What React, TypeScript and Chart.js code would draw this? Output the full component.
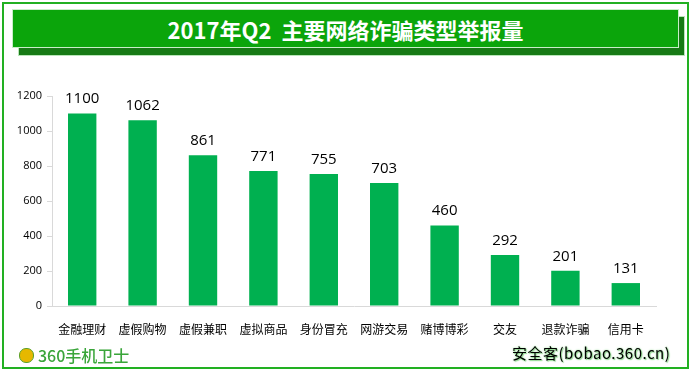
import React, { useEffect, useRef } from "react";
import { Chart, registerables } from "chart.js";

Chart.register(...registerables);

const categories = ["金融理财", "虚假购物", "虚假兼职", "虚拟商品", "身份冒充", "网游交易", "赌博博彩", "交友", "退款诈骗", "信用卡"];
const reports = [1100, 1062, 861, 771, 755, 703, 460, 292, 201, 131];
const yTicks = [0, 200, 400, 600, 800, 1000, 1200];
const titleText = "2017年Q2  主要网络诈骗类型举报量";

const valueLabels = {
  id: "valueLabels",
  afterDatasetsDraw(chart: any) {
    const ctx = chart.ctx;
    const meta = chart.getDatasetMeta(0);
    ctx.save();
    ctx.fillStyle = "#000";
    ctx.font = "15px 'Open Sans', 'Liberation Sans', sans-serif";
    ctx.textAlign = "center";
    ctx.textBaseline = "bottom";
    meta.data.forEach((bar: any, i: number) => {
      ctx.fillText(String(chart.data.datasets[0].data[i]), bar.x, bar.y - 7);
    });
    ctx.restore();
  },
};

export default function App() {
  const ref = useRef<HTMLCanvasElement>(null);
  useEffect(() => {
    const chart = new Chart(ref.current!, {
      type: "bar",
      data: {
        labels: categories,
        datasets: [{ data: reports, backgroundColor: "#00b050", categoryPercentage: 1, barPercentage: 0.47 }],
      },
      options: {
        animation: false,
        responsive: false,
        maintainAspectRatio: false,
        layout: { padding: { left: 0, right: 35, top: 96, bottom: 34 } },
        plugins: { legend: { display: false }, tooltip: { enabled: false } },
        scales: {
          x: {
            grid: { display: false },
            border: { color: "#d9d9d9", width: 1 },
            ticks: { color: "#000", font: { family: "'Noto Sans CJK SC', sans-serif", size: 12 }, padding: 8 },
            afterFit: (s: any) => { s.height = 30; },
          },
          y: {
            min: 0,
            max: 1200,
            afterBuildTicks: (s: any) => { s.ticks = yTicks.map((v) => ({ value: v })); },
            grid: { drawOnChartArea: false, drawTicks: true, tickLength: 5, color: "#d9d9d9" },
            border: { color: "#d9d9d9", width: 1 },
            ticks: { color: "#000", font: { family: "'Open Sans', 'Liberation Sans', sans-serif", size: 11 }, padding: 5, callback: (v: any) => String(v) },
            afterFit: (s: any) => { s.width = 52; },
          },
        },
      },
      plugins: [valueLabels],
    });
    return () => chart.destroy();
  }, []);

  return (
    <div style={{ position: "fixed", left: 0, top: 0, width: 691, height: 370, background: "#fff", overflow: "hidden" }}>
      <div style={{ position: "absolute", left: 2, top: 2, width: 683, height: 363, border: "2px solid #22b022" }} />
      <div style={{ position: "absolute", left: 18, top: 16, width: 667, height: 40, background: "#177a15", border: "1px solid #b9e6b9", boxSizing: "border-box" }} />
      <div style={{ position: "absolute", left: 12, top: 9, width: 667, height: 39, background: "#0ba50b", border: "1px solid #c8eec8", boxSizing: "border-box" }} />
      <div style={{ position: "absolute", left: 12, top: 9, width: 667, height: 39, display: "flex", alignItems: "center", justifyContent: "center", color: "#fff", fontFamily: "'Noto Sans CJK SC', sans-serif", fontWeight: 700, fontSize: 22, whiteSpace: "pre" }}>
        {titleText}
      </div>
      <canvas ref={ref} width={691} height={370} style={{ position: "absolute", left: 0, top: 0, width: 691, height: 370 }} />
      <div style={{ position: "absolute", left: 19, top: 343, display: "flex", alignItems: "center", fontFamily: "'Noto Sans CJK SC', sans-serif", fontSize: 16, color: "#3aa53a", fontWeight: 500 }}>
        <span style={{ display: "inline-block", width: 13, height: 13, borderRadius: 7, background: "#e6b800", border: "1px solid #5aa02a", marginRight: 4 }} />
        360手机卫士
      </div>
      <div style={{ position: "absolute", left: 512, top: 342, fontFamily: "'Noto Sans CJK SC', sans-serif", fontSize: 15, color: "#000", letterSpacing: 0.5, textShadow: "0 0 2px #8fd88f, 1px 1px 1px #8fd88f", whiteSpace: "pre" }}>
        安全客(bobao.360.cn)
      </div>
    </div>
  );
}
